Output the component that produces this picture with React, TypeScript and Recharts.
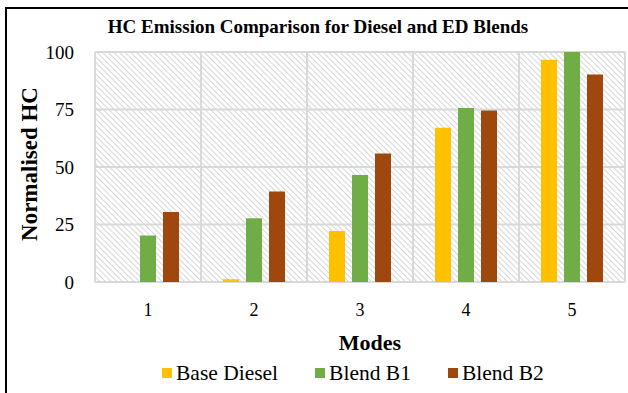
import React from 'react';
import { BarChart, Bar, XAxis, YAxis, CartesianGrid, Legend } from 'recharts';

const modes = ['1', '2', '3', '4', '5'];
const baseDiesel = [0, 1.2, 22.2, 67.1, 96.6];
const blendB1 = [20.2, 27.7, 46.5, 75.7, 100];
const blendB2 = [30.4, 39.3, 55.9, 74.6, 90.2];
const yTicks = [0, 25, 50, 75, 100];

const data = modes.map((mode, i) => ({
  mode,
  base: baseDiesel[i],
  b1: blendB1[i],
  b2: blendB2[i],
}));

const FONT = '"Liberation Serif", "Times New Roman", serif';

const LegendRow = ({ payload }: any) => (
  <div style={{ display: 'flex', paddingLeft: 162, gap: 37, fontFamily: FONT, fontSize: 21.5, color: '#000', lineHeight: '22px' }}>
    {(payload || []).map((item: any) => (
      <div key={item.value} style={{ display: 'flex', alignItems: 'center' }}>
        <span style={{ width: 10, height: 10, background: item.color, marginRight: 4, display: 'inline-block' }} />
        <span>{item.value}</span>
      </div>
    ))}
  </div>
);

export default function App() {
  return (
    <div style={{ position: 'absolute', left: 0, top: 0, width: 628, height: 393, background: '#fff' }}>
      <div style={{ position: 'absolute', left: 5, top: 7, width: 623, height: 386, borderTop: '2px solid #000', borderLeft: '2px solid #000' }} />
      <BarChart
        width={628}
        height={393}
        data={data}
        margin={{ top: 52, right: 3, left: 35, bottom: 81 }}
        barSize={16}
        barGap={7}
      >
        <defs>
          <pattern id="hatch" patternUnits="userSpaceOnUse" width="4" height="4" patternTransform="rotate(45)">
            <rect width="4" height="4" fill="#fff" />
            <line x1="0" y1="0" x2="4" y2="0" stroke="#cfcfcf" strokeWidth="1.7" />
          </pattern>
        </defs>
        <CartesianGrid
          fill="url(#hatch)"
          stroke="#d9d9d9"
          strokeWidth={2}
          verticalCoordinatesGenerator={({ offset }: any) =>
            modes.map((_, i) => offset.left + (i * offset.width) / modes.length).concat(offset.left + offset.width)
          }
        />
        <XAxis
          dataKey="mode"
          axisLine={false}
          tickLine={false}
          tickSize={0}
          tickMargin={21}
          height={30}
          tick={{ fontFamily: FONT, fontSize: 18, fill: '#000' }}
        />
        <YAxis
          domain={[0, 100]}
          ticks={yTicks}
          axisLine={false}
          tickLine={false}
          tickSize={0}
          tickMargin={21}
          width={60}
          tick={{ fontFamily: FONT, fontSize: 19, fill: '#000' }}
        />
        <Legend
          verticalAlign="middle"
          align="center"
          layout="horizontal"
          content={<LegendRow />}
          wrapperStyle={{ top: 362, left: 0, width: 628 }}
        />
        <Bar dataKey="base" name="Base Diesel" fill="#FFC000" isAnimationActive={false} />
        <Bar dataKey="b1" name="Blend B1" fill="#70AD47" isAnimationActive={false} />
        <Bar dataKey="b2" name="Blend B2" fill="#9E480E" isAnimationActive={false} />
        <text x={318} y={33} textAnchor="middle" fontFamily={FONT} fontSize={19} fontWeight="bold" fill="#000">
          HC Emission Comparison for Diesel and ED Blends
        </text>
        <text x={370} y={350} textAnchor="middle" fontFamily={FONT} fontSize={22} fontWeight="bold" fill="#000">
          Modes
        </text>
        <text
          x={0}
          y={0}
          transform="translate(37,164) rotate(-90)"
          textAnchor="middle"
          fontFamily={FONT}
          fontSize={23}
          fontWeight="bold"
          fill="#000"
        >
          Normalised HC
        </text>
      </BarChart>
    </div>
  );
}
